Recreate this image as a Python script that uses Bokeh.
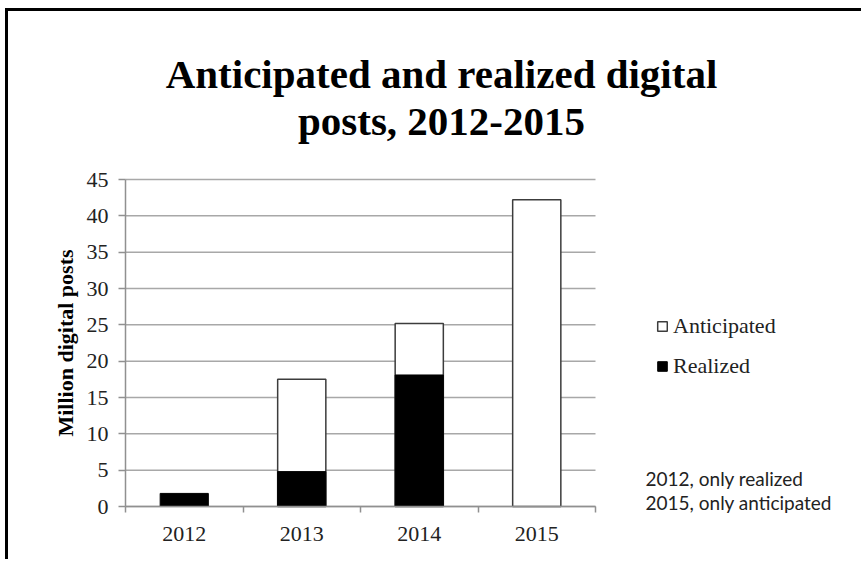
from bokeh.plotting import figure
from bokeh.models import (Range1d, FixedTicker, Label, Legend, LegendItem,
                          ColumnDataSource, LinearAxis)
from bokeh.embed import file_html
from bokeh.resources import INLINE

# ---- data ----
years = ["2012", "2013", "2014", "2015"]
anticipated = [float("nan"), 17.5, 25.2, 42.2]
realized = [1.8, 4.8, 18.1, float("nan")]
y_ticks = [0, 5, 10, 15, 20, 25, 30, 35, 40, 45]
title_lines = ["Anticipated and realized digital", "posts, 2012-2015"]
y_title = "Million digital posts"
series_names = ["Anticipated", "Realized"]
notes = ["2012, only realized", "2015, only anticipated"]

# ---- layout (canvas px) ----
W, H = 856, 551
PX0, PX1, PY0, PY1 = 117, 587, 168, 495   # plot area inside the canvas
OX, OY = 8, 11                             # page offset of the canvas
N = len(years)
Y_MAX = y_ticks[-1]
KX = (PX1 - PX0) / N
KY = (PY1 - PY0) / Y_MAX


def dx(page_x):
    return (page_x - OX - PX0) / KX


def dy(page_y):
    return (PY1 - (page_y - OY)) / KY


p = figure(width=W, height=H,
           x_range=Range1d(-PX0 / KX, (W - PX0) / KX),
           y_range=Range1d(-(H - PY1) / KY, Y_MAX + PY0 / KY),
           x_axis_type=None, y_axis_type=None,
           output_backend="svg", toolbar_location=None,
           min_border=0, min_border_left=0, min_border_right=0,
           min_border_top=0, min_border_bottom=0)
p.outline_line_color = None
p.background_fill_color = "white"
p.border_fill_color = "white"
p.styles = {"border-top": "3px solid black", "border-left": "3px solid black",
            "margin-left": "5px", "margin-top": "8px"}

SERIF = "Liberation Serif"

# gridlines
grid_src = ColumnDataSource(dict(y=y_ticks, x0=[0] * len(y_ticks), x1=[N] * len(y_ticks)))
p.segment(x0="x0", x1="x1", y0="y", y1="y", source=grid_src,
          line_color="#a8a8a8", line_width=1.5)

xs = [i + 0.5 for i in range(N)]
src = ColumnDataSource(dict(x=xs, year=years, anticipated=anticipated, realized=realized))

r_a = p.vbar(x="x", top="anticipated", width=0.41, source=src,
             fill_color="white", line_color="#3c3c3c", line_width=1.5)
r_r = p.vbar(x="x", top="realized", width=0.41, source=src,
             fill_color="black", line_color="black", line_width=1)

# x axis
xaxis = LinearAxis(fixed_location=0, bounds=(0, N),
                   ticker=FixedTicker(ticks=xs, minor_ticks=list(range(N + 1))),
                   major_label_overrides={x: y for x, y in zip(xs, years)})
xaxis.major_tick_out = 0
xaxis.major_tick_in = 0
xaxis.minor_tick_out = 6
xaxis.minor_tick_in = 0
xaxis.minor_tick_line_color = "#909090"
xaxis.minor_tick_line_width = 1.5
xaxis.major_label_standoff = 14
xaxis.major_label_text_font = SERIF
xaxis.major_label_text_font_size = "22px"
xaxis.major_label_text_color = "#222222"
xaxis.axis_line_color = "#909090"
xaxis.axis_line_width = 1.5
p.add_layout(xaxis, "below")

# y axis
yaxis = LinearAxis(fixed_location=0, bounds=(0, Y_MAX),
                   ticker=FixedTicker(ticks=y_ticks, minor_ticks=[]))
yaxis.major_tick_out = 7
yaxis.major_tick_in = 0
yaxis.major_tick_line_color = "#909090"
yaxis.major_tick_line_width = 1.5
yaxis.minor_tick_line_color = None
yaxis.major_label_standoff = 10
yaxis.major_label_text_font = SERIF
yaxis.major_label_text_font_size = "22px"
yaxis.major_label_text_color = "#222222"
yaxis.axis_line_color = "#909090"
yaxis.axis_line_width = 1.5
yaxis.axis_label = y_title
yaxis.axis_label_text_font = SERIF
yaxis.axis_label_text_font_style = "bold"
yaxis.axis_label_text_font_size = "22px"
yaxis.axis_label_text_color = "black"
yaxis.axis_label_standoff = 6
p.add_layout(yaxis, "left")

# title
for line, py in zip(title_lines, [73, 120]):
    p.add_layout(Label(x=dx(441), y=dy(py), text=line, text_align="center",
                       text_baseline="alphabetic", text_font=SERIF,
                       text_font_style="bold", text_font_size="41px",
                       text_color="black"))

# legend
legend = Legend(items=[LegendItem(label=series_names[0], renderers=[r_a]),
                       LegendItem(label=series_names[1], renderers=[r_r])],
                location=(656 - OX, H - (379 - OY)),
                padding=0, margin=0, spacing=14,
                glyph_width=12, glyph_height=12, label_standoff=5,
                label_height=25, label_text_font=SERIF, label_text_font_size="22px",
                label_text_color="#222222",
                border_line_color=None, background_fill_alpha=0)
p.add_layout(legend)

# notes
for note, py in zip(notes, [478, 502]):
    p.add_layout(Label(x=dx(645), y=dy(py), text=note, text_align="left",
                       text_baseline="middle", text_font="Lato",
                       text_font_size="19px", text_color="#222222"))

open("out.html", "w").write(file_html(p, INLINE))
